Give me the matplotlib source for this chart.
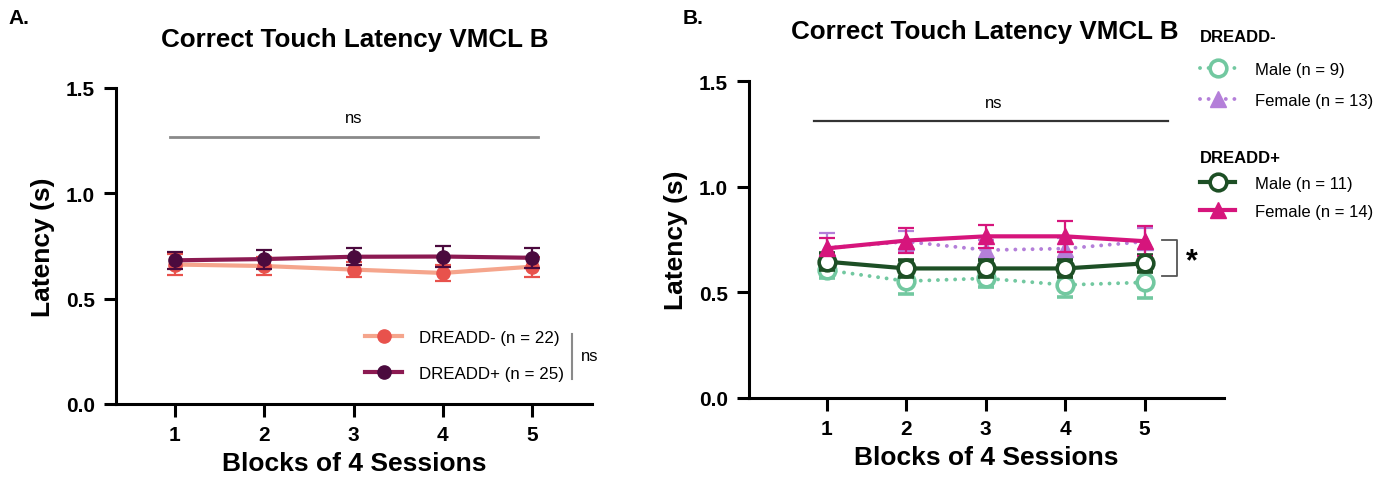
import matplotlib
matplotlib.use("Agg")
import matplotlib.pyplot as plt
from matplotlib.lines import Line2D

plt.rcParams['font.family'] = ['Liberation Sans', 'DejaVu Sans']

blocks = [1, 2, 3, 4, 5]
block_labels = ['1', '2', '3', '4', '5']
y_ticks = [0.0, 0.5, 1.0, 1.5]

# Panel A: DREADD- vs DREADD+
a_neg_mean = [0.662, 0.655, 0.638, 0.622, 0.652]
a_neg_sem = [0.050, 0.045, 0.037, 0.037, 0.047]
a_pos_mean = [0.682, 0.688, 0.699, 0.700, 0.694]
a_pos_sem = [0.040, 0.045, 0.040, 0.052, 0.048]
a_labels = ['DREADD- (n = 22)', 'DREADD+ (n = 25)']

# Panel B: split by sex
b_neg_male_mean = [0.605, 0.553, 0.566, 0.535, 0.547]
b_neg_male_sem = [0.036, 0.060, 0.040, 0.055, 0.075]
b_neg_female_mean = [0.710, 0.740, 0.700, 0.707, 0.740]
b_neg_female_sem = [0.070, 0.050, 0.050, 0.050, 0.065]
b_pos_male_mean = [0.645, 0.613, 0.613, 0.613, 0.637]
b_pos_male_sem = [0.040, 0.040, 0.040, 0.040, 0.040]
b_pos_female_mean = [0.708, 0.745, 0.765, 0.765, 0.742]
b_pos_female_sem = [0.050, 0.060, 0.055, 0.072, 0.070]
b_neg_labels = ['Male (n = 9)', 'Female (n = 13)']
b_pos_labels = ['Male (n = 11)', 'Female (n = 14)']

title = 'Correct Touch Latency VMCL B'
xlabel = 'Blocks of 4 Sessions'
ylabel = 'Latency (s)'

# colours
c_neg_line, c_neg_mark = '#f5a58c', '#e8524c'
c_pos_line, c_pos_mark = '#8c1a52', '#4b0a3e'
c_lgreen, c_purple = '#72c8a0', '#b47fd9'
c_dgreen, c_magenta = '#1d4f25', '#d6157c'

W, H = 1390, 489
fig = plt.figure(figsize=(W / 100, H / 100), dpi=100)


def px(x0, y0, x1, y1):
    return [x0 / W, 1 - y1 / H, (x1 - x0) / W, (y1 - y0) / H]


def style_axes(ax, xlim):
    ax.set_xlim(*xlim)
    ax.set_ylim(0, 1.5)
    for s in ('top', 'right'):
        ax.spines[s].set_visible(False)
    for s in ('left', 'bottom'):
        ax.spines[s].set_linewidth(2.2)
    ax.set_xticks(blocks)
    ax.set_xticklabels(block_labels, fontweight='bold')
    ax.set_yticks(y_ticks)
    ax.set_yticklabels([f'{v:.1f}' for v in y_ticks], fontweight='bold')
    ax.tick_params(length=9, width=2.2, labelsize=15, pad=6)
    ax.set_xlabel(xlabel, fontsize=19, fontweight='bold', labelpad=5)
    ax.set_ylabel(ylabel, fontsize=19, fontweight='bold', labelpad=8)


# ---------------- Panel A ----------------
axA = fig.add_axes(px(115.7, 89, 592, 405))
style_axes(axA, (0.336, 5.67))
axA.errorbar(blocks, a_neg_mean, yerr=a_neg_sem, color=c_neg_line, lw=3,
             marker='o', ms=9.5, mfc=c_neg_mark, mec=c_neg_mark,
             ecolor=c_neg_mark, elinewidth=1.6, capsize=6, capthick=1.6, zorder=3)
axA.errorbar(blocks, a_pos_mean, yerr=a_pos_sem, color=c_pos_line, lw=3,
             marker='o', ms=9.5, mfc=c_pos_mark, mec=c_pos_mark,
             ecolor=c_pos_mark, elinewidth=1.6, capsize=6, capthick=1.6, zorder=4)
axA.plot([0.944, 5.07], [1.268, 1.268], color='#8a8a8a', lw=2, clip_on=False)
axA.text(3.0, 1.36, 'ns', ha='center', va='center', fontsize=12)

hA = [Line2D([], [], color=c_neg_line, lw=3, marker='o', ms=9.5,
             mfc=c_neg_mark, mec=c_neg_mark),
      Line2D([], [], color=c_pos_line, lw=3, marker='o', ms=9.5,
             mfc=c_pos_mark, mec=c_pos_mark)]
legA = axA.legend(hA, a_labels, loc='upper left', frameon=False,
                  bbox_to_anchor=(365 / W, 1 - 331 / H),
                  bbox_transform=fig.transFigure, fontsize=12.2,
                  handlelength=2.2, handletextpad=1.0, labelspacing=1.25,
                  borderpad=0, borderaxespad=0)
axA.plot([5.45, 5.45], [0.119, 0.332], color='#8a8a8a', lw=1.5, clip_on=False)
axA.text(5.55, 0.232, 'ns', ha='left', va='center', fontsize=12)

# ---------------- Panel B ----------------
axB = fig.add_axes(px(749, 82, 1224, 399))
style_axes(axB, (0.018, 6.0))
dots = (0, (0.01, 2.2))
common = dict(elinewidth=1.6, capsize=6, capthick=1.6)
axB.errorbar(blocks, b_neg_male_mean, yerr=b_neg_male_sem, color=c_lgreen,
             lw=2.8, ls=dots, dash_capstyle='round', marker='o', ms=12,
             mfc='white', mec=c_lgreen, mew=2.6, ecolor=c_lgreen, zorder=3,
             **common)
axB.errorbar(blocks, b_neg_female_mean, yerr=b_neg_female_sem, color=c_purple,
             lw=2.8, ls=dots, dash_capstyle='round', marker='^', ms=11,
             mfc=c_purple, mec=c_purple, ecolor=c_purple, zorder=3, **common)
axB.errorbar(blocks, b_pos_male_mean, yerr=b_pos_male_sem, color=c_dgreen,
             lw=3, marker='o', ms=12, mfc='white', mec=c_dgreen, mew=2.6,
             ecolor=c_dgreen, zorder=4, **common)
axB.errorbar(blocks, b_pos_female_mean, yerr=b_pos_female_sem, color=c_magenta,
             lw=3, marker='^', ms=11, mfc=c_magenta, mec=c_magenta,
             ecolor=c_magenta, zorder=4, **common)
axB.plot([0.836, 5.29], [1.311, 1.311], color='#333333', lw=1.6, clip_on=False)
axB.text(3.1, 1.40, 'ns', ha='center', va='center', fontsize=12)
axB.plot([5.22, 5.41, 5.41, 5.22], [0.748, 0.748, 0.577, 0.577],
         color='#555555', lw=1.3, clip_on=False)
axB.text(5.6, 0.645, '*', ha='center', va='center', fontsize=22,
         fontweight='bold')

hB1 = [Line2D([], [], color=c_lgreen, lw=2.8, ls=dots, dash_capstyle='round',
              marker='o', ms=12, mfc='white', mec=c_lgreen, mew=2.6),
       Line2D([], [], color=c_purple, lw=2.8, ls=dots, dash_capstyle='round',
              marker='^', ms=11, mfc=c_purple, mec=c_purple)]
hB2 = [Line2D([], [], color=c_dgreen, lw=3, marker='o', ms=12, mfc='white',
              mec=c_dgreen, mew=2.6),
       Line2D([], [], color=c_magenta, lw=3, marker='^', ms=11,
              mfc=c_magenta, mec=c_magenta)]
legkw = dict(loc='upper left', frameon=False, bbox_transform=fig.transFigure,
             fontsize=12, handlelength=2.1, handletextpad=1.2,
             borderpad=0, borderaxespad=0,
             alignment='left', title_fontproperties={'weight': 'bold',
                                                     'size': 12})
legB1 = axB.legend(hB1, b_neg_labels, title='DREADD-', labelspacing=0.95,
                   bbox_to_anchor=(1200 / W, 1 - 30 / H), **legkw)
axB.add_artist(legB1)
legB2 = axB.legend(hB2, b_pos_labels, title='DREADD+', labelspacing=0.75,
                   bbox_to_anchor=(1200 / W, 1 - 151 / H), **legkw)
legB1._legend_box.sep = 13
legB2._legend_box.sep = 8

# titles and panel letters
fig.text(355 / W, 1 - 40 / H, title, ha='center', va='center', fontsize=18.7,
         fontweight='bold')
fig.text(985 / W, 1 - 32 / H, title, ha='center', va='center', fontsize=18.7,
         fontweight='bold')
fig.text(8 / W, 1 - 18 / H, 'A.', ha='left', va='center', fontsize=15,
         fontweight='bold')
fig.text(683 / W, 1 - 18 / H, 'B.', ha='left', va='center', fontsize=15,
         fontweight='bold')

fig.savefig('out.png', dpi=100)
